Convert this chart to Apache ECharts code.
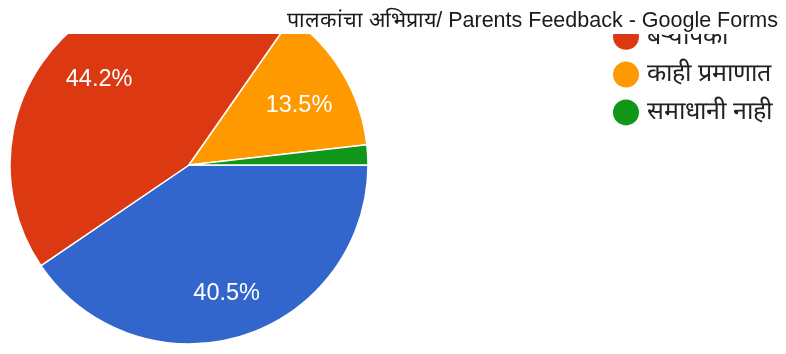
<!DOCTYPE html>
<html>
<head>
<meta charset="utf-8">
<script src="https://cdn.jsdelivr.net/npm/echarts@6/dist/echarts.min.js"></script>
<style>
  html, body { margin: 0; padding: 0; background: #fff; }
  #chart { width: 786px; height: 354px; }
</style>
</head>
<body>
<div id="chart"></div>
<script>
// Survey answers and their share of responses (percent)
const categories = ['पूर्णपणे', 'बऱ्यापैकी', 'काही प्रमाणात', 'समाधानी नाही'];
const shares = [40.5, 44.2, 13.5, 1.8];
const colors = ['#3366cc', '#dc3912', '#ff9900', '#109618'];
const titleText = 'पालकांचा अभिप्राय/ Parents Feedback - Google Forms';

const pieData = categories.map((name, i) => ({ name, value: shares[i] }));

const chart = echarts.init(document.getElementById('chart'));
chart.setOption({
  animation: false,
  color: colors,
  title: {
    text: titleText,
    right: 3,
    top: 5,
    z: 200,
    textStyle: { fontFamily: '"Liberation Sans", Arial, sans-serif', fontSize: 21.5, fontWeight: 'normal', color: '#1a1a1a' }
  },
  legend: {
    orient: 'vertical',
    left: 606,
    top: -21,
    icon: 'circle',
    itemWidth: 28,
    itemHeight: 28,
    itemGap: 7.8,
    data: categories,
    textStyle: { fontFamily: '"Liberation Sans", Arial, sans-serif', fontSize: 25, lineHeight: 28, color: '#222', padding: [0, 0, 0, 2] }
  },
  graphic: {
    elements: [{
      type: 'rect',
      z: 100,
      silent: true,
      shape: { x: 0, y: 0, width: 786, height: 34 },
      style: { fill: '#ffffff' }
    }]
  },
  series: [
    {
      type: 'pie',
      center: [189, 165],
      radius: [0, 179],
      startAngle: 0,
      clockwise: true,
      data: pieData,
      label: { show: false },
      labelLine: { show: false },
      itemStyle: { borderColor: '#ffffff', borderWidth: 1.5 },
      emphasis: { disabled: true }
    },
    {
      // transparent ring that carries the percentage labels further out
      type: 'pie',
      center: [189, 165],
      radius: [71, 179],
      startAngle: 0,
      clockwise: true,
      silent: true,
      data: pieData,
      itemStyle: { color: 'rgba(0,0,0,0)' },
      emphasis: { disabled: true },
      labelLine: { show: false },
      label: {
        show: true,
        position: 'inside',
        fontFamily: '"Liberation Sans", Arial, sans-serif',
        fontSize: 23.5,
        color: '#ffffff',
        offset: [0, 6],
        formatter: (p) => (p.value < 5 ? '' : p.value.toFixed(1) + '%')
      }
    }
  ]
});
</script>
</body>
</html>
